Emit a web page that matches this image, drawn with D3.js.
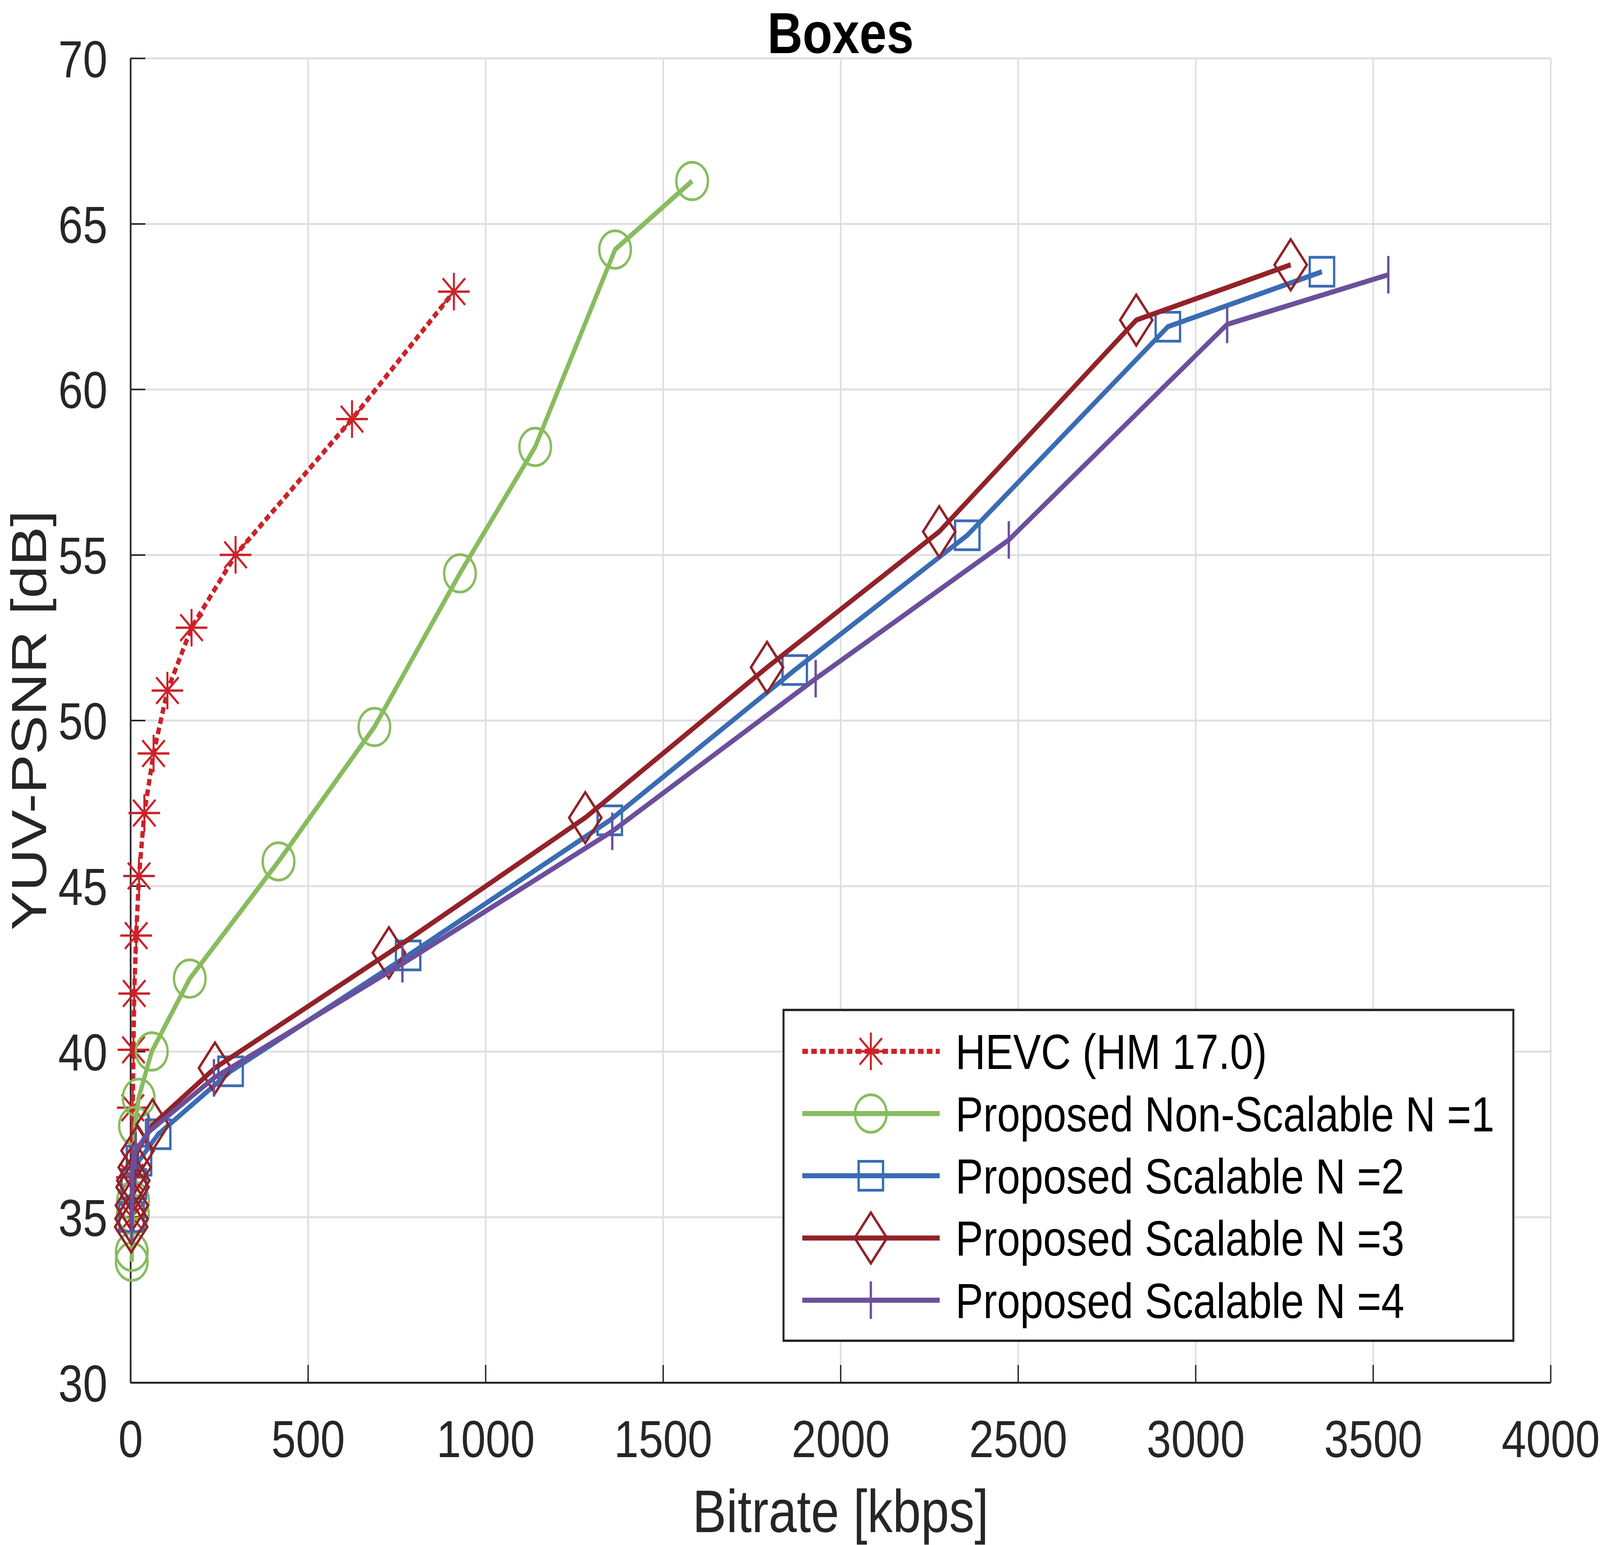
<!DOCTYPE html>
<html>

<head>
    <meta charset='utf-8'>
    <meta name='viewport' content='width=device-width, initial-scale=1'>
    <title>Boxes</title>
    <script type="text/javascript" src="https://cdnjs.cloudflare.com/ajax/libs/d3/7.8.5/d3.min.js"></script>
    <style>
        html, body { margin: 0; padding: 0; background: #fff; overflow: hidden; }
        svg { display: block; }
        text { font-family: "Liberation Sans", Arial, Helvetica, sans-serif; }
    </style>
</head>

<body>
    <script>
        // HEVC (HM 17.0)
        const hevcRate = [4, 4, 6.5, 8.5, 10.5, 16, 24, 39, 65, 104, 172, 296, 624, 911];
        const hevcPsnr = [35.0, 36.2, 38.3, 40.05, 41.75, 43.5, 45.3, 47.2, 49.0, 50.9, 52.8, 55.0, 59.1, 62.95];

        // Proposed Non-Scalable N =1
        const n1Rate = [3.5, 3.7, 6.8, 7.4, 12.7, 23, 60, 167, 417, 687, 928, 1140, 1365, 1582];
        const n1Psnr = [33.65, 33.95, 35.1, 35.5, 37.75, 38.6, 40.0, 42.2, 45.74, 49.8, 54.44, 58.26, 64.22, 66.29];

        // Proposed Scalable N =2
        const n2Rate = [3, 9.5, 24, 78, 282, 782, 1350, 1871, 2357, 2922, 3356];
        const n2Psnr = [35.0, 36.0, 36.7, 37.5, 39.4, 42.9, 46.98, 51.52, 55.59, 61.89, 63.55];

        // Proposed Scalable N =3
        const n3Rate = [2, 3, 4, 6, 8, 12, 20, 62, 238, 728, 1281, 1793, 2278, 2833, 3268];
        const n3Psnr = [34.7, 34.95, 35.35, 35.9, 36.1, 36.5, 37.0, 37.78, 39.5, 42.98, 47.06, 51.6, 55.7, 62.09, 63.76];

        // Proposed Scalable N =4
        const n4Rate = [3.7, 5, 6, 15, 50, 235, 766, 1357, 1930, 2474, 3089, 3543];
        const n4Psnr = [34.8, 35.8, 36.6, 37.0, 37.56, 39.2, 42.65, 46.65, 51.26, 55.45, 61.96, 63.46];

        const seriesNames = ["HEVC (HM 17.0)", "Proposed Non-Scalable N =1", "Proposed Scalable N =2",
            "Proposed Scalable N =3", "Proposed Scalable N =4"];
        const seriesColors = ["#cc2229", "#88bc5e", "#3a6cb4", "#922228", "#6b4f9c"];
        const seriesMarkers = ["asterisk", "circle", "square", "diamond", "vline"];

        const xTicks = [0, 500, 1000, 1500, 2000, 2500, 3000, 3500, 4000];
        const yTicks = [30, 35, 40, 45, 50, 55, 60, 65, 70];

        const w = 4856;
        const h = 3956;
        const padL = 396, padR = 4706, padT = 149, padB = 3540;

        const xScale = d3.scaleLinear().domain([0, 4000]).range([padL, padR]);
        const yScale = d3.scaleLinear().domain([30, 70]).range([padB, padT]);

        // fill the whole window, whatever its size
        const svg = d3.select("body")
            .append("svg")
            .attr("viewBox", "0 0 " + w + " " + h)
            .attr("preserveAspectRatio", "none")
            .style("width", "100vw")
            .style("height", "100vh");

        svg.append("rect").attr("width", w).attr("height", h).attr("fill", "#fff");

        // grid
        svg.append("g")
            .attr("transform", "translate(0," + padT + ")")
            .call(d3.axisBottom(xScale).tickValues(xTicks).tickSize(padB - padT).tickFormat(""))
            .call(g => g.select(".domain").remove())
            .selectAll("line").attr("stroke", "#dfdfdf").attr("stroke-width", 5);
        svg.append("g")
            .attr("transform", "translate(" + padL + ",0)")
            .call(d3.axisRight(yScale).tickValues(yTicks).tickSize(padR - padL).tickFormat(""))
            .call(g => g.select(".domain").remove())
            .selectAll("line").attr("stroke", "#dfdfdf").attr("stroke-width", 5);

        // axes
        const xAxis = svg.append("g")
            .attr("transform", "translate(0," + padB + ")")
            .call(d3.axisBottom(xScale).tickValues(xTicks).tickFormat(d3.format("d"))
                .tickSizeInner(-45).tickSizeOuter(0).tickPadding(96));
        const yAxis = svg.append("g")
            .attr("transform", "translate(" + padL + ",0)")
            .call(d3.axisLeft(yScale).tickValues(yTicks).tickFormat(d3.format("d"))
                .tickSizeInner(-45).tickSizeOuter(0).tickPadding(70));

        [xAxis, yAxis].forEach(a => {
            a.select(".domain").attr("stroke", "#262626").attr("stroke-width", 5);
            a.selectAll(".tick line").attr("stroke", "#262626").attr("stroke-width", 4);
            a.selectAll(".tick text")
                .attr("fill", "#262626")
                .style("font-size", "134px")
                .style("font-family", "'Liberation Sans', Arial, sans-serif");
        });
        yAxis.selectAll(".tick text").attr("dy", "0.36em");

        // axis labels and title
        svg.append("text")
            .attr("x", (padL + padR) / 2)
            .attr("y", 3923)
            .attr("text-anchor", "middle")
            .attr("fill", "#262626")
            .style("font-size", "154px")
            .text("Bitrate [kbps]");

        svg.append("text")
            .attr("transform", "translate(140," + (padT + padB) / 2 + ") rotate(-90)")
            .attr("text-anchor", "middle")
            .attr("fill", "#262626")
            .style("font-size", "150px")
            .text("YUV-PSNR [dB]");

        svg.append("text")
            .attr("x", (padL + padR) / 2)
            .attr("y", 136)
            .attr("text-anchor", "middle")
            .attr("fill", "#000")
            .style("font-size", "148px")
            .style("font-weight", "bold")
            .text("Boxes");

        function drawMarker(g, type, x, y, color) {
            if (type === "circle") {
                g.append("circle").attr("cx", x).attr("cy", y).attr("r", 48)
                    .attr("fill", "none").attr("stroke", color).attr("stroke-width", 7);
            } else if (type === "square") {
                g.append("rect").attr("x", x - 37).attr("y", y - 37).attr("width", 74).attr("height", 74)
                    .attr("fill", "none").attr("stroke", color).attr("stroke-width", 7);
            } else if (type === "diamond") {
                g.append("path")
                    .attr("d", `M${x},${y - 65}L${x + 49},${y}L${x},${y + 65}L${x - 49},${y}Z`)
                    .attr("fill", "none").attr("stroke", color).attr("stroke-width", 7);
            } else if (type === "asterisk") {
                const r = 48, d = 34;
                g.append("path")
                    .attr("d", `M${x - r},${y}L${x + r},${y}M${x},${y - r}L${x},${y + r}` +
                        `M${x - d},${y - d}L${x + d},${y + d}M${x - d},${y + d}L${x + d},${y - d}`)
                    .attr("fill", "none").attr("stroke", color).attr("stroke-width", 6);
            } else if (type === "vline") {
                g.append("path")
                    .attr("d", `M${x},${y - 48}L${x},${y + 48}`)
                    .attr("fill", "none").attr("stroke", color).attr("stroke-width", 7);
            }
        }

        const series = [
            { rate: hevcRate, psnr: hevcPsnr },
            { rate: n1Rate, psnr: n1Psnr },
            { rate: n2Rate, psnr: n2Psnr },
            { rate: n3Rate, psnr: n3Psnr },
            { rate: n4Rate, psnr: n4Psnr }
        ];

        const line = d3.line().x(d => xScale(d[0])).y(d => yScale(d[1]));

        series.forEach((s, i) => {
            const pts = s.rate.map((r, k) => [r, s.psnr[k]]);
            const g = svg.append("g");
            g.append("path")
                .datum(pts)
                .attr("d", line)
                .attr("fill", "none")
                .attr("stroke", seriesColors[i])
                .attr("stroke-width", 13)
                .attr("stroke-linejoin", "round")
                .attr("stroke-dasharray", i === 0 ? "17,10" : null);
            pts.forEach(p => drawMarker(g, seriesMarkers[i], xScale(p[0]), yScale(p[1]), seriesColors[i]));
        });

        // legend
        const lg = svg.append("g");
        lg.append("rect")
            .attr("x", 2378).attr("y", 2586).attr("width", 2215).attr("height", 847)
            .attr("fill", "#fff").attr("stroke", "#262626").attr("stroke-width", 6);
        seriesNames.forEach((name, i) => {
            const y = 2692 + i * 159.3;
            lg.append("line")
                .attr("x1", 2435).attr("x2", 2852).attr("y1", y).attr("y2", y)
                .attr("stroke", seriesColors[i]).attr("stroke-width", 13)
                .attr("stroke-dasharray", i === 0 ? "17,10" : null);
            drawMarker(lg, seriesMarkers[i], 2643, y, seriesColors[i]);
            lg.append("text")
                .attr("x", 2900).attr("y", y).attr("dy", "0.36em")
                .attr("fill", "#000")
                .style("font-size", "126px")
                .text(name);
        });
    </script>
</body>

</html>
